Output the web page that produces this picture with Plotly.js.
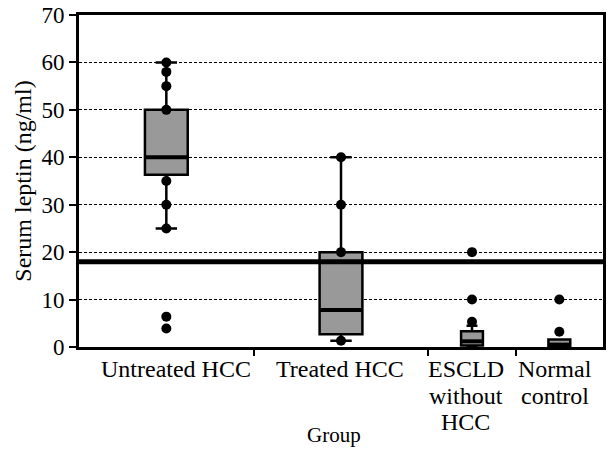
<!DOCTYPE html>
<html>
<head>
<meta charset="utf-8">
<script src="https://cdn.plot.ly/plotly-3.0.1.min.js"></script>
</head>
<body style="margin:0;background:#fff">
<div id="chart" style="width:608px;height:449px"></div>
<script>
// Categories and their tick labels (lines separated by <br>)
var categories = ["Untreated HCC", "Treated HCC", "ESCLD without HCC", "Normal control"];
var tickLabels = ["Untreated HCC", "Treated HCC", "ESCLD<br>without<br>HCC", "Normal<br>control"];

// Box statistics per group (ng/ml)
var q1Vals = [36.3, 2.7, 0.3, 0.0];
var medianVals = [40, 7.8, 1.2, 0.5];
var q3Vals = [50, 20, 3.3, 1.6];
var lowerFence = [25, 1.3, 0.0, 0.0];
var upperFence = [60, 40, 4.5, 1.6];

// Individual points per group
var untreatedPts = [60, 58, 55, 50, 35, 30, 25, 6.4, 3.9];
var treatedPts = [40, 30, 20, 1.3];
var escldPts = [20, 10, 5.3];
var normalPts = [10, 3.2];
var groupPts = [untreatedPts, treatedPts, escldPts, normalPts];

// Reference cut-off line value
var cutoff = 18;

// Layout: category centres, box widths, label centres, category boundaries (axis units)
var catCenters = [1, 3, 4.5, 5.5];
var boxWidths = [0.49, 0.49, 0.25, 0.25];
var labelCenters = [1.11, 2.99, 4.43, 5.45];
var boundaries = [2, 4, 5];

var traces = [];
for (var i = 0; i < categories.length; i++) {
  traces.push({
    type: "box",
    name: categories[i],
    x: [catCenters[i]],
    q1: [q1Vals[i]],
    median: [medianVals[i]],
    q3: [q3Vals[i]],
    lowerfence: [lowerFence[i]],
    upperfence: [upperFence[i]],
    width: boxWidths[i],
    whiskerwidth: 1.05,
    fillcolor: "#999999",
    line: {color: "#000000", width: 2.5},
    boxpoints: false,
    hoverinfo: "skip",
    showlegend: false
  });
}
// thicker median bars, derived from the box statistics
for (var k = 0; k < categories.length; k++) {
  traces.push({
    type: "scatter",
    mode: "lines",
    x: [catCenters[k] - boxWidths[k] / 2, catCenters[k] + boxWidths[k] / 2],
    y: [medianVals[k], medianVals[k]],
    line: {color: "#000000", width: 4},
    showlegend: false,
    hoverinfo: "skip"
  });
}
for (var j = 0; j < categories.length; j++) {
  var xs = groupPts[j].map(function () { return catCenters[j]; });
  traces.push({
    type: "scatter",
    mode: "markers",
    x: xs,
    y: groupPts[j],
    marker: {color: "#000000", size: 10},
    showlegend: false,
    hoverinfo: "skip"
  });
}
traces.push({type: "scatter", x: [], y: [], xaxis: "x2", showlegend: false});

var fontFam = "Liberation Serif";

// category labels: one annotation per text line for tight line spacing
var annotations = [];
for (var a = 0; a < tickLabels.length; a++) {
  var lines = tickLabels[a].split("<br>");
  for (var L = 0; L < lines.length; L++) {
    annotations.push({
      text: lines[L],
      xref: "x", yref: "paper",
      x: labelCenters[a], y: 0,
      xanchor: "center", yanchor: "top",
      yshift: -7 - L * 26.7,
      showarrow: false,
      font: {family: fontFam, size: 24, color: "#000000"}
    });
  }
}
annotations.push({
  text: "Group",
  xref: "paper", yref: "paper",
  x: 0.487, y: -102 / 332,
  xanchor: "center", yanchor: "bottom",
  yshift: 0,
  showarrow: false,
  font: {family: fontFam, size: 21, color: "#000000"}
});

var layout = {
  width: 608,
  height: 449,
  margin: {l: 79, r: 5, t: 15, b: 102},
  paper_bgcolor: "#ffffff",
  plot_bgcolor: "#ffffff",
  font: {family: fontFam, color: "#000000", size: 22},
  showlegend: false,
  xaxis: {
    range: [0, 6],
    showticklabels: false,
    ticks: "",
    showline: true,
    linecolor: "#000000",
    linewidth: 3,
    mirror: true,
    showgrid: false,
    zeroline: false
  },
  xaxis2: {
    overlaying: "x",
    range: [0, 6],
    side: "bottom",
    tickmode: "array",
    tickvals: boundaries,
    ticks: "outside",
    ticklen: 8,
    tickwidth: 2,
    tickcolor: "#000000",
    showticklabels: false,
    showgrid: false,
    showline: false,
    zeroline: false
  },
  yaxis: {
    range: [0, 70],
    tickmode: "linear",
    tick0: 0,
    dtick: 10,
    ticks: "outside",
    ticklen: 7,
    tickwidth: 2,
    tickcolor: "#000000",
    tickfont: {family: fontFam, size: 23, color: "#000000"},
    showline: true,
    linecolor: "#000000",
    linewidth: 3,
    mirror: true,
    showgrid: true,
    gridcolor: "#000000",
    gridwidth: 1,
    griddash: "3px,2px",
    zeroline: false,
    title: {text: "Serum leptin (ng/ml)", font: {family: fontFam, size: 24, color: "#000000"}, standoff: 4}
  },
  shapes: [{
    type: "line",
    xref: "paper", yref: "y",
    x0: 0, x1: 1, y0: cutoff, y1: cutoff,
    line: {color: "#000000", width: 5}
  }],
  annotations: annotations
};

Plotly.newPlot("chart", traces, layout, {displayModeBar: false});
</script>
</body>
</html>
